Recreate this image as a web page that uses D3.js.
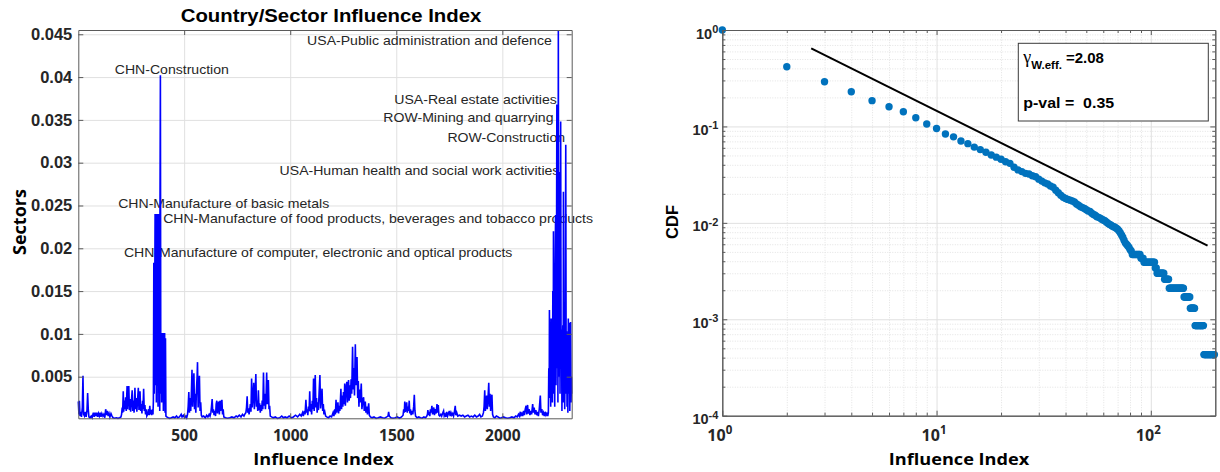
<!DOCTYPE html>
<html>
<head>
<meta charset="utf-8">
<script src="https://cdn.jsdelivr.net/npm/d3@7"></script>
<style>
	body { margin: 0; background: #fff; }
	svg { display: block; }
	.axis path.domain, .axis .tick line { stroke: #5a5a5a; stroke-width: 1; }
	.axis text { fill: #262626; font-weight: bold; }
	.grid path.domain { display: none; }
	.grid .tick line { stroke: #e0e0e0; stroke-width: 1; }
	.minor-grid path.domain { display: none; }
	.minor-grid .tick line { stroke: #e2e2e2; stroke-width: 1; stroke-dasharray: 1 1.5; }
</style>
</head>
<body>
<svg id="chart" width="1220" height="472"></svg>
<script>
// left panel: influence value of each country/sector (index, value)
var influencePoints = [
	[1, 0.0021], [4, 0.0006], [6, 0.0022], [9, 0.0004], [12, 0.0009], [16, 0.0003], [20, 0.0014], [23, 0.0051], [26, 0.0006], [30, 0.0004],
	[34, 0.0009], [38, 0.0003], [42, 0.0011], [45, 0.0031], [48, 0.0012], [51, 0.0003], [56, 0.0002], [62, 0.0004], [66, 0.0002], [72, 0.0008],
	[76, 0.0003], [80, 0.0008], [84, 0.0004], [88, 0.0008], [92, 0.0003], [96, 0.0007], [100, 0.0004], [104, 0.0008], [108, 0.0003], [112, 0.0007],
	[117, 0.0004], [121, 0.0006], [126, 0.0002], [130, 0.0012], [134, 0.0005], [138, 0.0010], [142, 0.0004], [146, 0.0007], [150, 0.0003], [155, 0.0007],
	[160, 0.0004], [165, 0.0002], [172, 0.00015], [180, 0.0002], [188, 0.00014], [196, 0.0002], [202, 0.0003],
	[205, 0.0006], [208, 0.0014], [210, 0.0008], [213, 0.0033], [215, 0.0009], [218, 0.0022], [221, 0.0012], [224, 0.0026], [227, 0.0010], [231, 0.0039],
	[233, 0.0012], [236, 0.0027], [239, 0.0039], [242, 0.0011], [245, 0.0024], [248, 0.0009], [251, 0.0020], [255, 0.0034], [258, 0.0010], [261, 0.0022],
	[264, 0.0008], [268, 0.0037], [271, 0.0012], [274, 0.0025], [277, 0.0009], [280, 0.0021], [284, 0.0037], [287, 0.0011], [289, 0.0024], [292, 0.0033],
	[295, 0.0010], [298, 0.0018], [301, 0.0007], [304, 0.0022], [306, 0.0012], [309, 0.0036], [312, 0.0010], [315, 0.0017], [318, 0.0006], [321, 0.0012],
	[324, 0.0004], [328, 0.0006], [332, 0.0012], [335, 0.0005], [338, 0.0016], [341, 0.0006], [344, 0.0011], [347, 0.0005], [350, 0.0012], [353, 0.0006],
	[355, 0.0022], [357, 0.0183], [359, 0.0030], [361, 0.0120], [363, 0.0240], [365, 0.0040], [367, 0.0240], [369, 0.0020], [371, 0.0240], [373, 0.0060],
	[375, 0.0240], [377, 0.0015], [379, 0.0240], [381, 0.0040], [383, 0.0240], [385, 0.0010], [386, 0.0240], [388, 0.0402], [390, 0.0030], [392, 0.0101],
	[394, 0.0020], [396, 0.0101], [398, 0.0040], [400, 0.0101], [402, 0.0010], [404, 0.0101], [406, 0.0030], [408, 0.0101], [410, 0.0008], [412, 0.0095],
	[414, 0.0004], [418, 0.0003], [425, 0.0002], [432, 0.00014], [440, 0.0002], [448, 0.0003], [456, 0.0002], [464, 0.0004], [470, 0.0002], [478, 0.0003],
	[486, 0.0006], [490, 0.0003], [496, 0.0005], [502, 0.0002], [508, 0.0004], [512, 0.0002],
	[516, 0.0006], [519, 0.0015], [522, 0.0032], [525, 0.0008], [528, 0.0025], [531, 0.0010], [534, 0.0030], [537, 0.0058], [540, 0.0015], [543, 0.0040],
	[546, 0.0054], [549, 0.0012], [552, 0.0030], [555, 0.0008], [558, 0.0035], [561, 0.0050], [563, 0.0067], [566, 0.0014], [569, 0.0042], [572, 0.0051],
	[575, 0.0010], [578, 0.0020], [581, 0.0005], [585, 0.0003], [592, 0.0004], [600, 0.0002], [606, 0.0005], [612, 0.0003], [618, 0.0006], [622, 0.0004],
	[626, 0.0008], [629, 0.0015], [632, 0.0024], [635, 0.0008], [638, 0.0012], [641, 0.0005], [645, 0.0010], [648, 0.0004], [651, 0.0018], [654, 0.0022],
	[657, 0.0007], [660, 0.0016], [663, 0.0021], [666, 0.0006], [669, 0.0022], [672, 0.0010], [675, 0.0018], [678, 0.0023], [681, 0.0006], [684, 0.0012],
	[687, 0.0003], [695, 0.0002], [705, 0.00014], [715, 0.0002], [725, 0.0003], [735, 0.0002], [745, 0.0004], [752, 0.0003], [760, 0.0005], [768, 0.0003],
	[775, 0.0006], [782, 0.0004], [788, 0.0007],
	[791, 0.0008], [794, 0.0014], [797, 0.0027], [800, 0.0008], [803, 0.0013], [806, 0.0006], [809, 0.0011], [812, 0.0018], [815, 0.0009], [818, 0.0048],
	[821, 0.0014], [824, 0.0025], [828, 0.0043], [831, 0.0012], [834, 0.0028], [838, 0.0053], [841, 0.0015], [844, 0.0022], [847, 0.0010], [850, 0.0034],
	[853, 0.0011], [856, 0.0019], [859, 0.0008], [862, 0.0017], [865, 0.0010], [868, 0.0022], [871, 0.0012], [874, 0.0055], [877, 0.0016], [880, 0.0030],
	[883, 0.0012], [886, 0.0024], [889, 0.0055], [892, 0.0018], [895, 0.0030], [897, 0.0046], [900, 0.0012], [903, 0.0016], [906, 0.0004],
	[912, 0.0003], [920, 0.0002], [930, 0.0003], [940, 0.00014], [950, 0.0002], [960, 0.0004], [968, 0.0002], [976, 0.0003], [985, 0.0002], [995, 0.0004],
	[1005, 0.0002], [1015, 0.0003], [1025, 0.0005], [1035, 0.0003], [1045, 0.0006], [1052, 0.0004], [1058, 0.0008],
	[1062, 0.0004], [1066, 0.0010], [1070, 0.0006], [1074, 0.0023], [1077, 0.0008], [1080, 0.0012], [1083, 0.0005], [1086, 0.0015], [1089, 0.0010], [1092, 0.0033],
	[1095, 0.0009], [1098, 0.0018], [1101, 0.0006], [1104, 0.0022], [1107, 0.0012], [1110, 0.0048], [1113, 0.0010], [1116, 0.0030], [1118, 0.0052], [1121, 0.0014],
	[1124, 0.0025], [1127, 0.0008], [1130, 0.0020], [1133, 0.0011], [1136, 0.0030], [1140, 0.0052], [1143, 0.0013], [1146, 0.0024], [1150, 0.0036], [1153, 0.0010],
	[1156, 0.0018], [1159, 0.0006], [1163, 0.0009], [1167, 0.0004], [1172, 0.0003], [1180, 0.0002], [1188, 0.0004], [1195, 0.0003], [1202, 0.0008], [1206, 0.0004],
	[1210, 0.0012], [1213, 0.0006], [1216, 0.0023], [1219, 0.0008], [1222, 0.0014], [1225, 0.0020], [1228, 0.0007], [1231, 0.0016], [1234, 0.0010], [1237, 0.0024],
	[1239, 0.0036], [1242, 0.0012], [1245, 0.0028], [1248, 0.0015], [1251, 0.0032], [1254, 0.0018], [1257, 0.0042], [1260, 0.0016], [1263, 0.0035], [1267, 0.0044],
	[1270, 0.0020], [1273, 0.0038], [1275, 0.0046], [1278, 0.0022], [1281, 0.0040], [1284, 0.0025], [1287, 0.0047], [1290, 0.0030], [1294, 0.0085], [1297, 0.0035],
	[1300, 0.0060], [1303, 0.0028], [1307, 0.0088], [1310, 0.0040], [1312, 0.0065], [1315, 0.0073], [1318, 0.0025], [1321, 0.0045], [1324, 0.0015], [1327, 0.0035],
	[1330, 0.0020], [1335, 0.0042], [1338, 0.0012], [1342, 0.0022], [1346, 0.0026], [1349, 0.0010], [1351, 0.0018], [1354, 0.0021], [1357, 0.0008], [1361, 0.0015],
	[1364, 0.0006], [1367, 0.0012], [1370, 0.0019], [1373, 0.0005], [1378, 0.0003],
	[1386, 0.0002], [1395, 0.0003], [1405, 0.00014], [1415, 0.0002], [1425, 0.0003], [1435, 0.0002], [1445, 0.00015], [1455, 0.0003], [1461, 0.0004], [1464, 0.0009],
	[1467, 0.0004], [1475, 0.0002], [1485, 0.00015], [1495, 0.0002], [1505, 0.0003], [1515, 0.00015], [1525, 0.0003],
	[1532, 0.0005], [1535, 0.0012], [1538, 0.0008], [1540, 0.0021], [1543, 0.0009], [1546, 0.0014], [1549, 0.0020], [1552, 0.0008], [1555, 0.0015], [1558, 0.0010],
	[1561, 0.0022], [1564, 0.0007], [1567, 0.0012], [1570, 0.0005], [1574, 0.0010], [1578, 0.0006], [1582, 0.0015], [1585, 0.0029], [1588, 0.0010], [1591, 0.0004],
	[1598, 0.0002], [1606, 0.0003], [1614, 0.0002], [1622, 0.00015], [1630, 0.0003], [1638, 0.0002], [1644, 0.0004],
	[1647, 0.0006], [1649, 0.0011], [1652, 0.0005], [1655, 0.0009], [1658, 0.0004], [1661, 0.0012], [1664, 0.0008], [1668, 0.0016], [1671, 0.0006], [1674, 0.0010],
	[1677, 0.0014], [1680, 0.0005], [1684, 0.0012], [1688, 0.0007], [1692, 0.0018], [1695, 0.0008], [1698, 0.0017], [1701, 0.0005], [1705, 0.0004], [1710, 0.0006],
	[1714, 0.0004], [1718, 0.0007], [1723, 0.0010], [1726, 0.0004], [1730, 0.0006], [1734, 0.0003], [1738, 0.0009], [1742, 0.0004], [1746, 0.0007], [1750, 0.0010],
	[1754, 0.0004], [1758, 0.0008], [1762, 0.0005], [1766, 0.0007], [1770, 0.0004], [1774, 0.0009], [1778, 0.0016], [1781, 0.0005], [1785, 0.0008], [1790, 0.0004],
	[1798, 0.0005], [1806, 0.0004], [1814, 0.0005], [1822, 0.0003], [1830, 0.0004], [1838, 0.0005], [1846, 0.0003], [1854, 0.0004], [1862, 0.0003], [1870, 0.0005],
	[1878, 0.0003], [1886, 0.0004], [1893, 0.0006], [1899, 0.0003], [1906, 0.0004],
	[1911, 0.0008], [1914, 0.0015], [1917, 0.0034], [1920, 0.0010], [1923, 0.0020], [1926, 0.0028], [1929, 0.0012], [1932, 0.0022], [1936, 0.0043], [1939, 0.0015],
	[1942, 0.0030], [1945, 0.0010], [1948, 0.0025], [1951, 0.0029], [1954, 0.0006], [1958, 0.0003],
	[1965, 0.0002], [1972, 0.0004], [1980, 0.0003], [1988, 0.00015], [1996, 0.0002], [2005, 0.0003], [2015, 0.0002], [2025, 0.00015], [2035, 0.0002], [2045, 0.0003],
	[2055, 0.0002], [2063, 0.0004], [2070, 0.0003], [2076, 0.0006],
	[2080, 0.0004], [2085, 0.0009], [2088, 0.0005], [2092, 0.0007], [2096, 0.0004], [2100, 0.0010], [2104, 0.0005], [2108, 0.0012], [2112, 0.0016], [2115, 0.0006],
	[2119, 0.0017], [2122, 0.0007], [2126, 0.0012], [2130, 0.0005], [2134, 0.0010], [2138, 0.0006], [2143, 0.0018], [2146, 0.0008], [2150, 0.0014], [2154, 0.0006],
	[2158, 0.0011], [2162, 0.0005], [2166, 0.0009], [2170, 0.0004], [2174, 0.0012], [2179, 0.0028], [2182, 0.0008], [2186, 0.0012], [2190, 0.0005], [2194, 0.0008],
	[2198, 0.0004], [2202, 0.0009], [2206, 0.0005], [2210, 0.0007], [2214, 0.0004],
	[2217, 0.0008], [2219, 0.0060], [2221, 0.0025], [2222, 0.0128], [2224, 0.0030], [2226, 0.0090], [2228, 0.0015], [2230, 0.0118], [2232, 0.0040], [2234, 0.0095],
	[2236, 0.0020], [2238, 0.0150], [2240, 0.0050], [2241, 0.0220], [2243, 0.0030], [2245, 0.0120], [2247, 0.0015], [2249, 0.0180], [2251, 0.0239], [2253, 0.0040],
	[2255, 0.0140], [2257, 0.0368], [2259, 0.0060], [2261, 0.0200], [2262, 0.0020], [2264, 0.0455], [2266, 0.0050], [2268, 0.0150], [2270, 0.0289], [2272, 0.0030],
	[2275, 0.0348], [2277, 0.0060], [2279, 0.0105], [2281, 0.0010], [2283, 0.0080], [2285, 0.0110], [2287, 0.0020], [2288, 0.0266], [2290, 0.0040], [2292, 0.0095],
	[2294, 0.0012], [2296, 0.0070], [2299, 0.0321], [2301, 0.0030], [2303, 0.0103], [2305, 0.0015], [2307, 0.0080], [2309, 0.0008], [2311, 0.0118], [2313, 0.0030],
	[2315, 0.0090], [2316, 0.0113], [2318, 0.0010], [2320, 0.0060], [2322, 0.0114], [2324, 0.0020], [2326, 0.0050], [2327, 0.0030]
];

var influenceXTicks = [500, 1000, 1500, 2000];
var influenceYTicks = [0.005, 0.01, 0.015, 0.02, 0.025, 0.03, 0.035, 0.04, 0.045];

// sector labels: text, index, value, alignment
var sectorLabels = [
	['USA-Public administration and defence', 2233, 0.0438, 'end'],
	['CHN-Construction', 173, 0.0404, 'start'],
	['USA-Real estate activities', 2257, 0.0369, 'end'],
	['ROW-Mining and quarrying', 2241, 0.0348, 'end'],
	['ROW-Construction', 2296, 0.0324, 'end'],
	['USA-Human health and social work activities', 2269, 0.0286, 'end'],
	['CHN-Manufacture of basic metals', 189, 0.0247, 'start'],
	['CHN-Manufacture of food products, beverages and tobacco products', 401, 0.0230, 'start'],
	['CHN-Manufacture of computer, electronic and optical products', 216, 0.0190, 'start']
];

// right panel: CDF value for influence index 1, 2, 3, ...
var cdfValues = [
	1, 0.416, 0.291, 0.229, 0.185, 0.160, 0.142, 0.123, 0.106, 0.095,
	0.0834, 0.078, 0.0705, 0.0663, 0.0610, 0.0575, 0.0540, 0.0506, 0.0480, 0.0457,
	0.0430, 0.0414, 0.0377, 0.0354, 0.0340, 0.0326, 0.0321, 0.0308, 0.0301, 0.0284,
	0.0271, 0.0260, 0.0253, 0.0241, 0.0234, 0.0218, 0.0205, 0.0193, 0.0184, 0.0179,
	0.0175, 0.0172, 0.0169, 0.0165, 0.0157, 0.0152, 0.0147, 0.0144, 0.0141, 0.0137,
	0.0133, 0.0131, 0.0126, 0.0122, 0.0120, 0.0116, 0.0114, 0.0112, 0.0109, 0.0107,
	0.0105, 0.0102, 0.0099, 0.0097, 0.0095, 0.0093, 0.0091, 0.0090, 0.0088, 0.0086,
	0.0083, 0.0079, 0.0075, 0.0071, 0.0066, 0.0062, 0.0060, 0.0058, 0.0056, 0.0053,
	0.0051, 0.0047, 0.0047, 0.0047, 0.0047, 0.0047, 0.0047, 0.0047, 0.0047, 0.0043,
	0.0043, 0.0043, 0.0039, 0.0039, 0.0039, 0.0039, 0.0039, 0.0039, 0.0039, 0.0039,
	0.0039, 0.0039, 0.0039, 0.0039, 0.0034, 0.0034, 0.0030, 0.0030, 0.0030, 0.0030,
	0.0030, 0.0030, 0.0030, 0.0030, 0.0030, 0.0026, 0.0026, 0.0026, 0.0026, 0.0026,
	0.0026, 0.0021, 0.0021, 0.0021, 0.0021, 0.0021, 0.0021, 0.0021, 0.0021, 0.0021,
	0.0021, 0.0021, 0.0021, 0.0021, 0.0021, 0.0021, 0.0021, 0.0021, 0.0021, 0.0021,
	0.0021, 0.0021, 0.0017, 0.0017, 0.0017, 0.0017, 0.0017, 0.0017, 0.0017, 0.0017,
	0.0017, 0.0017, 0.0013, 0.0013, 0.0013, 0.0013, 0.0013, 0.0013, 0.0013, 0.0013,
	0.00086, 0.00086, 0.00086, 0.00086, 0.00086, 0.00086, 0.00086, 0.00086, 0.00086, 0.00086,
	0.00086, 0.00086, 0.00086, 0.00086, 0.00086, 0.00086, 0.00043, 0.00043, 0.00043, 0.00043,
	0.00043, 0.00043, 0.00043, 0.00043, 0.00043, 0.00043, 0.00043, 0.00043, 0.00043, 0.00043,
	0.00043, 0.00043, 0.00043, 0.00043, 0.00043, 0.00043, 0.00043, 0.00043
];

var cdfXLimits = [1, 200];
var cdfYLimits = [1e-4, 1];
var cdfXTicks = [1, 10, 100];
var cdfYTicks = [1e-4, 1e-3, 1e-2, 1e-1, 1];

// fitted power law (end points)
var fitX = [2.6, 184];
var fitY = [0.646, 0.0058];
var fitGamma = '2.08';
var fitPValue = '0.35';

var fontArial = '"Liberation Sans", Arial, sans-serif';
var fontLabel = '"Open Sans", "DejaVu Sans", sans-serif';

var svg = d3.select('#chart');

drawInfluence();
drawCdf();

function drawInfluence() {
	var area = { left: 78.3, right: 571.7, top: 30, bottom: 418.3 };
	var w = area.right - area.left;
	var h = area.bottom - area.top;

	var x = d3.scaleLinear()
		.domain(d3.extent(influencePoints, function(d) { return d[0]; }))
		.range([area.left, area.right]);

	var y = d3.scaleLinear()
		.domain(d3.extent(influencePoints, function(d) { return d[1]; }))
		.range([area.bottom, area.top]);

	var g = svg.append('g');

	// grid
	g.append('g')
		.attr('class', 'grid')
		.attr('transform', 'translate(0,' + area.bottom + ')')
		.call(d3.axisBottom(x).tickValues(influenceXTicks).tickSize(-h).tickFormat(''));

	g.append('g')
		.attr('class', 'grid')
		.attr('transform', 'translate(' + area.left + ',0)')
		.call(d3.axisLeft(y).tickValues(influenceYTicks).tickSize(-w).tickFormat(''));

	// labels for the big sectors
	sectorLabels.forEach(function(d) {
		g.append('text')
			.attr('transform', 'translate(' + x(d[1]) + ',' + y(d[2]) + ') scale(1.1,1)')
			.attr('text-anchor', d[3])
			.style('font-family', fontArial)
			.style('font-size', '12.8px')
			.style('fill', '#262626')
			.text(d[0]);
	});

	// series
	g.append('path')
		.datum(influencePoints)
		.attr('fill', 'none')
		.attr('stroke', '#0000ff')
		.attr('stroke-width', 1.6)
		.attr('d', d3.line()
			.x(function(d) { return x(d[0]); })
			.y(function(d) { return y(d[1]); }));

	// axes (ticks inside, box on)
	var xAxis = g.append('g')
		.attr('class', 'axis')
		.attr('transform', 'translate(0,' + area.bottom + ')')
		.call(d3.axisBottom(x).tickValues(influenceXTicks).tickSize(-5).tickSizeOuter(0).tickPadding(12)
			.tickFormat(d3.format('d')));

	xAxis.selectAll('text')
		.style('font-family', fontLabel)
		.style('font-size', '15.5px');

	var yAxis = g.append('g')
		.attr('class', 'axis')
		.attr('transform', 'translate(' + area.left + ',0)')
		.call(d3.axisLeft(y).tickValues(influenceYTicks).tickSize(-5).tickSizeOuter(0).tickPadding(6)
			.tickFormat(function(d) { return String(d); }));

	yAxis.selectAll('text')
		.style('font-family', fontArial)
		.style('font-size', '16.5px');

	g.append('g')
		.attr('class', 'axis')
		.attr('transform', 'translate(0,' + area.top + ')')
		.call(d3.axisTop(x).tickValues(influenceXTicks).tickSize(-5).tickSizeOuter(0).tickFormat(''));

	g.append('g')
		.attr('class', 'axis')
		.attr('transform', 'translate(' + area.right + ',0)')
		.call(d3.axisRight(y).tickValues(influenceYTicks).tickSize(-5).tickSizeOuter(0).tickFormat(''));

	// titles
	g.append('text')
		.attr('transform', 'translate(331,21.7) scale(1.1,1)')
		.attr('text-anchor', 'middle')
		.style('font-family', fontArial)
		.style('font-size', '18.5px')
		.style('font-weight', 'bold')
		.style('fill', '#000')
		.text('Country/Sector Influence Index');

	g.append('text')
		.attr('transform', 'translate(323.5,464.5) scale(1.1,1)')
		.attr('text-anchor', 'middle')
		.style('font-family', fontLabel)
		.style('font-size', '16.5px')
		.style('font-weight', 'bold')
		.style('fill', '#000')
		.text('Influence Index');

	g.append('text')
		.attr('transform', 'translate(26,222) rotate(-90)')
		.attr('text-anchor', 'middle')
		.style('font-family', fontLabel)
		.style('font-size', '18px')
		.style('font-weight', 'bold')
		.style('fill', '#000')
		.text('Sectors');
}

function drawCdf() {
	var area = { left: 722.3, right: 1215.3, top: 30, bottom: 415.7 };
	var w = area.right - area.left;
	var h = area.bottom - area.top;

	var x = d3.scaleLog().domain(cdfXLimits).range([area.left, area.right]);
	var y = d3.scaleLog().domain(cdfYLimits).range([area.bottom, area.top]);

	var isMajor = function(v) {
		return Math.abs(Math.log10(v) - Math.round(Math.log10(v))) < 1e-6;
	};
	var xMinor = x.ticks().filter(function(v) { return !isMajor(v) && v < cdfXLimits[1]; });
	var yMinor = y.ticks().filter(function(v) { return !isMajor(v); });

	var g = svg.append('g');

	// minor grid (dotted) then major grid
	g.append('g')
		.attr('class', 'minor-grid')
		.attr('transform', 'translate(0,' + area.bottom + ')')
		.call(d3.axisBottom(x).tickValues(xMinor).tickSize(-h).tickFormat(''));

	g.append('g')
		.attr('class', 'minor-grid')
		.attr('transform', 'translate(' + area.left + ',0)')
		.call(d3.axisLeft(y).tickValues(yMinor).tickSize(-w).tickFormat(''));

	g.append('g')
		.attr('class', 'grid')
		.attr('transform', 'translate(0,' + area.bottom + ')')
		.call(d3.axisBottom(x).tickValues(cdfXTicks).tickSize(-h).tickFormat(''));

	g.append('g')
		.attr('class', 'grid')
		.attr('transform', 'translate(' + area.left + ',0)')
		.call(d3.axisLeft(y).tickValues(cdfYTicks).tickSize(-w).tickFormat(''));

	// fitted line
	g.append('path')
		.datum(d3.zip(fitX, fitY))
		.attr('fill', 'none')
		.attr('stroke', '#000')
		.attr('stroke-width', 2)
		.attr('d', d3.line()
			.x(function(d) { return x(d[0]); })
			.y(function(d) { return y(d[1]); }));

	// cdf points
	g.append('g')
		.selectAll('circle')
		.data(cdfValues)
		.enter()
		.append('circle')
		.attr('cx', function(d, i) { return x(i + 1); })
		.attr('cy', function(d) { return y(d); })
		.attr('r', 3.7)
		.attr('fill', '#0072bd');

	// axes with minor ticks on all sides
	var minorTicks = function(axis, values) {
		return axis.tickValues(values).tickSize(-3).tickSizeOuter(0).tickFormat('');
	};

	g.append('g').attr('class', 'axis')
		.attr('transform', 'translate(0,' + area.bottom + ')')
		.call(minorTicks(d3.axisBottom(x), xMinor));
	g.append('g').attr('class', 'axis')
		.attr('transform', 'translate(0,' + area.top + ')')
		.call(minorTicks(d3.axisTop(x), xMinor));
	g.append('g').attr('class', 'axis')
		.attr('transform', 'translate(' + area.left + ',0)')
		.call(minorTicks(d3.axisLeft(y), yMinor));
	g.append('g').attr('class', 'axis')
		.attr('transform', 'translate(' + area.right + ',0)')
		.call(minorTicks(d3.axisRight(y), yMinor));

	var xAxis = g.append('g')
		.attr('class', 'axis')
		.attr('transform', 'translate(0,' + area.bottom + ')')
		.call(d3.axisBottom(x).tickValues(cdfXTicks).tickSize(-5).tickSizeOuter(0).tickPadding(0).tickFormat(''));

	xAxis.selectAll('.tick').append('text')
		.attr('x', -3)
		.attr('y', 25)
		.attr('text-anchor', 'middle')
		.style('font-family', fontLabel)
		.style('font-size', '16px')
		.each(function(d) { powerLabel(d3.select(this), d, '11.5px', -7); });

	var yAxis = g.append('g')
		.attr('class', 'axis')
		.attr('transform', 'translate(' + area.left + ',0)')
		.call(d3.axisLeft(y).tickValues(cdfYTicks).tickSize(-5).tickSizeOuter(0).tickPadding(0).tickFormat(''));

	yAxis.selectAll('.tick').append('text')
		.attr('x', -4)
		.attr('y', 8)
		.attr('text-anchor', 'end')
		.style('font-family', fontArial)
		.style('font-size', '14.5px')
		.each(function(d) { powerLabel(d3.select(this), d, '11px', -5.5); });

	g.append('g').attr('class', 'axis')
		.attr('transform', 'translate(0,' + area.top + ')')
		.call(d3.axisTop(x).tickValues(cdfXTicks).tickSize(-5).tickSizeOuter(0).tickFormat(''));
	g.append('g').attr('class', 'axis')
		.attr('transform', 'translate(' + area.right + ',0)')
		.call(d3.axisRight(y).tickValues(cdfYTicks).tickSize(-5).tickSizeOuter(0).tickFormat(''));

	// annotation box
	var box = g.append('g').attr('transform', 'translate(' + (area.right - 197) + ',' + (area.top + 13.3) + ')');

	box.append('rect')
		.attr('width', 190)
		.attr('height', 77.7)
		.attr('fill', '#fff')
		.attr('stroke', '#3a3a3a')
		.attr('stroke-width', 1);

	var gammaText = box.append('text')
		.attr('x', 5)
		.attr('y', 19.5)
		.style('fill', '#000');

	gammaText.append('tspan')
		.style('font-family', '"Liberation Serif", serif')
		.style('font-size', '18px')
		.text('\u03b3');

	gammaText.append('tspan')
		.attr('dy', 6.5)
		.style('font-family', fontArial)
		.style('font-weight', 'bold')
		.style('font-size', '11.5px')
		.text('W.eff.');

	gammaText.append('tspan')
		.attr('dx', 4)
		.attr('dy', -6.5)
		.style('font-family', fontArial)
		.style('font-weight', 'bold')
		.style('font-size', '15px')
		.text('=' + fitGamma);

	box.append('text')
		.attr('transform', 'translate(5,65) scale(1.1,1)')
		.style('font-family', fontArial)
		.style('font-weight', 'bold')
		.style('font-size', '14.5px')
		.style('white-space', 'pre')
		.style('fill', '#000')
		.text('p-val =  ' + fitPValue);

	// titles
	g.append('text')
		.attr('transform', 'translate(959,464.5) scale(1.1,1)')
		.attr('text-anchor', 'middle')
		.style('font-family', fontLabel)
		.style('font-size', '16.5px')
		.style('font-weight', 'bold')
		.style('fill', '#000')
		.text('Influence Index');

	g.append('text')
		.attr('transform', 'translate(678.3,222) rotate(-90)')
		.attr('text-anchor', 'middle')
		.style('font-family', fontArial)
		.style('font-size', '16.5px')
		.style('font-weight', 'bold')
		.style('fill', '#000')
		.text('CDF');
}

// "10" with the exponent raised
function powerLabel(text, value, supSize, rise) {
	var exp = Math.round(Math.log10(value));

	text.append('tspan').text('10');
	text.append('tspan')
		.attr('dy', rise)
		.style('font-size', supSize)
		.text(String(exp));
}
</script>
</body>
</html>
